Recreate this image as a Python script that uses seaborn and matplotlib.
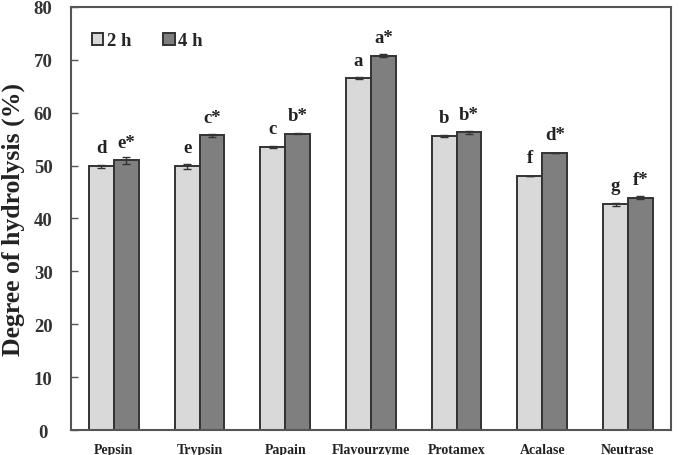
import matplotlib
matplotlib.use("Agg")
import matplotlib.pyplot as plt
import seaborn as sns
import pandas as pd
import numpy as np

enzymes = ["Pepsin", "Trypsin", "Papain", "Flavourzyme", "Protamex", "Acalase", "Neutrase"]
dh_2h = [49.9, 49.9, 53.5, 66.5, 55.6, 48.0, 42.7]
dh_4h = [51.0, 55.7, 56.0, 70.8, 56.3, 52.4, 43.9]
err_2h = [0.3, 0.5, 0.15, 0.2, 0.1, 0.05, 0.3]
err_4h = [0.7, 0.2, 0.1, 0.3, 0.3, 0.05, 0.3]
lab_2h = ["d", "e", "c", "a", "b", "f", "g"]
lab_4h = ["e*", "c*", "b*", "a*", "b*", "d*", "f*"]
times = ["2 h", "4 h"]
yticks = [0, 10, 20, 30, 40, 50, 60, 70, 80]

df = pd.DataFrame({
    "Enzyme": enzymes * 2,
    "Time": [times[0]] * len(enzymes) + [times[1]] * len(enzymes),
    "DH": dh_2h + dh_4h,
})

sns.set_theme(style="white")
plt.rcParams["font.family"] = ["Liberation Serif", "DejaVu Serif"]
plt.rcParams["font.weight"] = "bold"

fig = plt.figure(figsize=(6.79, 4.56), dpi=100)
ax = fig.add_axes([0.1046, 0.0548, 0.8834, 0.9277])

palette = {"2 h": "#d9d9d9", "4 h": "#7f7f7f"}
sns.barplot(data=df, x="Enzyme", y="DH", hue="Time", order=enzymes, hue_order=times,
            palette=palette, width=0.58, edgecolor="#333333", linewidth=1.4,
            errorbar=None, saturation=1, ax=ax)

# error bars and letters
for ci, (vals, errs, labs) in enumerate([(dh_2h, err_2h, lab_2h), (dh_4h, err_4h, lab_4h)]):
    cont = ax.containers[ci]
    for patch, v, e, lab in zip(cont.patches, vals, errs, labs):
        xc = patch.get_x() + patch.get_width() / 2
        ax.errorbar(xc, v, yerr=e, fmt="none", ecolor="#333333", elinewidth=1,
                    capsize=3, capthick=1)
        ax.annotate(lab, (xc, v), xytext=(0, 7), textcoords="offset points",
                    ha="center", va="bottom", fontsize=13.5, fontweight="bold",
                    color="#222222")

ax.set_ylim(0, 80)
ax.set_xlim(-0.5, len(enzymes) - 0.5)
ax.set_yticks(yticks)
ax.set_yticklabels([str(t) for t in yticks], fontsize=13.5, fontweight="bold", color="#333333")
ax.set_xticks(range(len(enzymes)))
ax.set_xticklabels(enzymes, fontsize=10, fontweight="bold", color="#222222")
ax.tick_params(axis="y", direction="in", length=5, width=1, color="#555555", pad=20, left=True)
ax.tick_params(axis="x", length=0, pad=9)
for lab in ax.get_yticklabels():
    lab.set_horizontalalignment("center")
ax.set_xlabel("")
ax.set_ylabel("Degree of hydrolysis (%)", fontsize=18.5, fontweight="bold", color="#222222", labelpad=6)

for s in ax.spines.values():
    s.set_visible(True)
    s.set_color("#555555")
    s.set_linewidth(1.5)

leg = ax.legend(loc="center left", bbox_to_anchor=(0.035, 0.92), ncol=2, frameon=False,
                handlelength=0.6, handleheight=0.6, handletextpad=0.2, columnspacing=1.7,
                borderpad=0, borderaxespad=0,
                prop={"family": "Liberation Serif", "weight": "bold", "size": 13.5})
for h in leg.legend_handles:
    h.set_edgecolor("#333333")
    h.set_linewidth(1.4)

fig.savefig("out.png", dpi=100)
